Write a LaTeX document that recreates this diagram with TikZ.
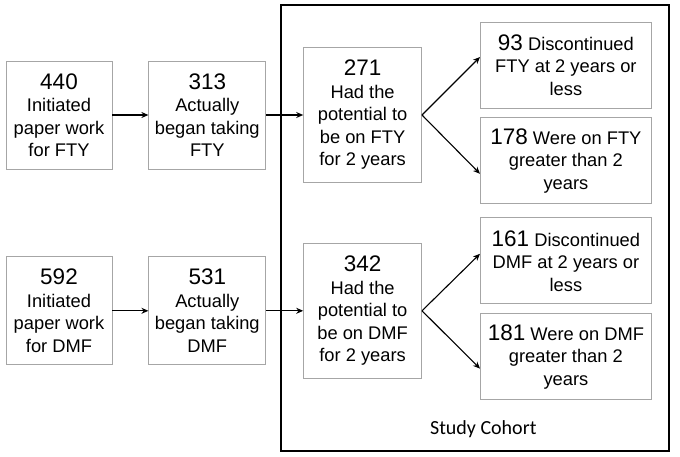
\documentclass[tikz,border=0pt]{standalone}
\usepackage{fontspec}
\setmainfont{Liberation Sans}
\newfontfamily\cohortfont{Carlito}
\usetikzlibrary{positioning,fit,arrows.meta}
\newcommand{\bignum}[1]{{\fontsize{22.5}{24}\selectfont #1}}

\begin{document}
\begin{tikzpicture}[x=1pt,y=-1pt,>={Stealth[length=7pt,width=6pt]},line width=1.1pt,
    flowbox/.style={rectangle, draw=gray!70, line width=0.8pt, align=center, inner sep=2pt, font=\fontsize{18.3}{22.5}\selectfont, minimum height=108pt},
    outbox/.style={flowbox, minimum width=171pt, minimum height=86pt},
    cohortframe/.style={draw, line width=1.6pt, inner sep=0pt}]
        \useasboundingbox (0,0) rectangle (680,456);
        % Frame
        \coordinate (cohort-nw) at (281,5);
        \coordinate (cohort-se) at (669,451);
        \node [cohortframe, fit=(cohort-nw)(cohort-se)] (cohort) {};
        \node [anchor=base west, font=\cohortfont\fontsize{20}{24}\selectfont] (cohortlabel) at ([xshift=146pt,yshift=17pt]cohort.south west) {Study Cohort};

        % Nodes
        \node [flowbox, minimum width=106pt] (fty1) at (59,115) {\bignum{440}\\Initiated\\paper work\\for FTY};
        \node [flowbox, minimum width=117pt, right=36pt of fty1] (fty2) {\bignum{313}\\Actually\\began taking\\FTY};
        \node [flowbox, minimum width=118pt, minimum height=135pt, right=37pt of fty2] (fty3) {\bignum{271}\\Had the\\potential to\\be on FTY\\for 2 years};
        \node [outbox, right=58pt of fty3, yshift=50pt] (fty4) {\bignum{93} Discontinued\\FTY at 2 years or\\less};
        \node [outbox, below=9pt of fty4] (fty5) {\bignum{178} Were on FTY\\greater than 2\\years};

        \node [flowbox, minimum width=106pt, below=87pt of fty1] (dmf1) {\bignum{592}\\Initiated\\paper work\\for DMF};
        \node [flowbox, minimum width=117pt, right=36pt of dmf1] (dmf2) {\bignum{531}\\Actually\\began taking\\DMF};
        \node [flowbox, minimum width=118pt, minimum height=135pt, right=37pt of dmf2] (dmf3) {\bignum{342}\\Had the\\potential to\\be on DMF\\for 2 years};
        \node [outbox, right=58pt of dmf3, yshift=50pt] (dmf4) {\bignum{161} Discontinued\\DMF at 2 years or\\less};
        \node [outbox, below=9pt of dmf4] (dmf5) {\bignum{181} Were on DMF\\greater than 2\\years};

        % Arrows
        \draw[->] (fty1) -- (fty2);
        \draw[->] (fty2) -- (fty3);
        \draw[->] (fty3.east) -- ([yshift=8pt]fty4.west);
        \draw[->] (fty3.east) -- ([yshift=-13pt]fty5.west);
        \draw[->] (dmf1) -- (dmf2);
        \draw[->] (dmf2) -- (dmf3);
        \draw[->] (dmf3.east) -- ([yshift=7pt]dmf4.west);
        \draw[->] (dmf3.east) -- ([yshift=-12pt]dmf5.west);
\end{tikzpicture}
\end{document}
